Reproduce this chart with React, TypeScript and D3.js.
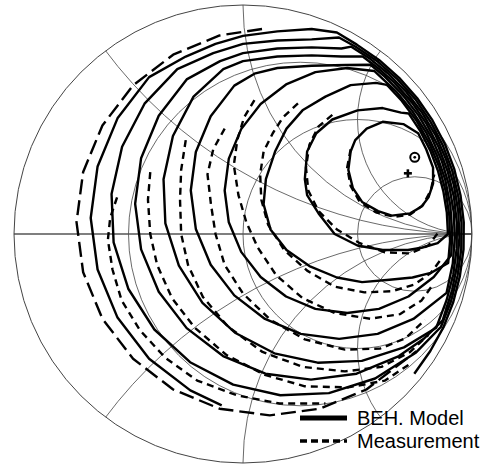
import React from "react";
import * as d3 from "d3";

type P = [number, number];

// Smith chart grid (normalised resistance circles / reactance arcs)
const resistanceCircles = [1 / 3, 1, 3];
const reactanceArcs = [0.5, 1, 2, -0.5, -1, -2];

// BEH. Model contours (reflection coefficient, Γr / Γi)
const model1: P[] = [[.46,.28],[.47,.36],[.49,.41],[.54,.46],[.61,.49],[.70,.48],[.765,.44],[.80,.37],[.83,.29],[.83,.22],[.81,.16],[.78,.12],[.73,.09],[.65,.08],[.59,.10],[.52,.14],[.48,.20]];
const model2: P[] = [[.27,.24],[.28,.36],[.32,.44],[.39,.50],[.50,.54],[.61,.55],[.69,.53],[.724,.526],[.775,.448],[.818,.364],[.851,.277],[.875,.186],[.89,.094],[.895,0],[.85,-.04],[.78,-.06],[.72,-.07],[.61,-.07],[.50,-.05],[.40,0],[.33,.09],[.28,.17]];
const model3: P[] = [[.09,.13],[.10,.24],[.14,.36],[.19,.46],[.26,.54],[.36,.60],[.47,.65],[.58,.66],[.629,.651],[.693,.582],[.759,.493],[.813,.397],[.856,.295],[.885,.188],[.901,.079],[.904,-.032],[.896,-.126],[.82,-.17],[.74,-.19],[.64,-.20],[.52,-.21],[.41,-.19],[.29,-.14],[.19,-.07],[.12,.02]];
const model4: P[] = [[.573,.712],[.455,.725],[.316,.707],[.188,.653],[.077,.568],[-.008,.458],[-.062,.329],[-.08,.19],[-.062,.051],[-.008,-.078],[.077,-.188],[.188,-.273],[.316,-.327],[.455,-.345],[.594,-.327],[.7225,-.273],[.833,-.188],[.909,-.093],[.914,0],[.905,.127],[.883,.237],[.847,.343],[.800,.443],[.739,.537],[.668,.623]];
const model5: P[] = [[.557,.739],[.45,.738],[.30,.735],[.15,.725],[.05,.70],[-.038,.648],[-.141,.514],[-.206,.358],[-.228,.19],[-.206,.022],[-.141,-.134],[-.038,-.268],[.096,-.371],[.252,-.436],[.42,-.458],[.588,-.436],[.744,-.371],[.889,-.257],[.916,-.129],[.925,-.016],[.920,.097],[.901,.208],[.869,.316],[.824,.420],[.767,.517],[.698,.607],[.619,.687]];
const model6: P[] = [[.523,.775],[.43,.775],[.30,.78],[.15,.775],[0,.755],[-.086,.72],[-.216,.600],[-.306,.428],[-.347,.239],[-.339,.046],[-.280,-.138],[-.177,-.301],[-.035,-.431],[.137,-.521],[.326,-.562],[.519,-.554],[.703,-.495],[.844,-.409],[.889,-.289],[.918,-.178],[.933,-.065],[.934,.049],[.921,.162],[.894,.273],[.854,.380],[.801,.482],[.737,.576],[.661,.661],[.590,.724]];
const model7: P[] = [[.473,.818],[.43,.81],[.30,.815],[.15,.81],[0,.79],[-.10,.755],[-.246,.675],[-.368,.516],[-.445,.331],[-.471,.132],[-.445,-.067],[-.368,-.252],[-.246,-.411],[-.087,-.533],[.098,-.610],[.297,-.636],[.496,-.610],[.681,-.533],[.791,-.456],[.872,-.377],[.913,-.245],[.936,-.132],[.945,-.016],[.940,.099],[.921,.213],[.888,.323],[.842,.429],[.783,.528],[.713,.620],[.632,.702],[.555,.765]];
const model8: P[] = [[.419,.858],[.30,.85],[.15,.845],[0,.83],[-.13,.79],[-.287,.72],[-.430,.569],[-.528,.381],[-.574,.175],[-.565,-.037],[-.501,-.239],[-.387,-.417],[-.231,-.560],[-.043,-.658],[.163,-.704],[.375,-.695],[.577,-.631],[.756,-.517],[.864,-.406],[.908,-.295],[.937,-.182],[.953,-.067],[.954,.050],[.940,.166],[.913,.279],[.872,.388],[.818,.492],[.753,.588],[.675,.675],[.588,.753],[.492,.818]];
const model9: P[] = [[-.093,-.748],[-.230,-.683],[-.410,-.545],[-.548,-.365],[-.635,-.155],[-.665,.07],[-.635,.295],[-.548,.505],[-.410,.685],[-.25,.775],[-.12,.83],[0,.865],[.15,.885],[.30,.895],[.41,.88],[.497,.827],[.594,.760],[.682,.682],[.760,.594],[.827,.497],[.882,.392],[.923,.282],[.950,.168],[.964,.051],[.963,-.067],[.947,-.184],[.918,-.298],[.875,-.408],[.818,-.511],[.748,-.610]];

// Measurement contours
const meas1: P[] = [[.47,.37],[.455,.29],[.47,.21],[.51,.14],[.58,.095],[.66,.075],[.73,.085],[.785,.125],[.82,.19],[.835,.26]];
const meas2: P[] = [[.39,.52],[.33,.47],[.29,.39],[.275,.29],[.285,.19],[.33,.10],[.41,.02],[.51,-.04],[.62,-.08],[.73,-.085],[.81,-.05],[.855,.01]];
const meas3: P[] = [[.24,.57],[.175,.51],[.13,.44],[.09,.36],[.075,.26],[.08,.15],[.11,.04],[.18,-.07],[.28,-.16],[.40,-.23],[.53,-.255],[.65,-.25],[.75,-.22],[.82,-.17],[.865,-.11]];
const meas4: P[] = [[.05,.585],[.005,.51],[-.025,.41],[-.04,.30],[-.02,.17],[.015,.05],[.065,-.06],[.145,-.18],[.26,-.28],[.40,-.345],[.555,-.37],[.685,-.35],[.78,-.29],[.83,-.22]];
const meas5: P[] = [[-.08,.46],[-.13,.37],[-.155,.26],[-.14,.13],[-.12,0],[-.08,-.135],[0,-.26],[.12,-.375],[.27,-.46],[.445,-.505],[.60,-.50],[.71,-.455],[.795,-.375]];
const meas6: P[] = [[-.25,.41],[-.27,.28],[-.275,.15],[-.27,0],[-.24,-.135],[-.175,-.275],[-.065,-.405],[.085,-.515],[.26,-.58],[.445,-.60],[.605,-.58],[.73,-.515],[.81,-.44]];
const meas7: P[] = [[-.405,.27],[-.415,.15],[-.405,0],[-.375,-.135],[-.31,-.28],[-.21,-.41],[-.07,-.53],[.095,-.615],[.27,-.665],[.46,-.67],[.62,-.64],[.74,-.56]];
const meas8: P[] = [[-.55,.16],[-.58,.07],[-.59,-.025],[-.57,-.155],[-.53,-.29],[-.45,-.42],[-.34,-.54],[-.20,-.64],[-.025,-.705],[.16,-.74],[.36,-.74]];
const measOuter: P[] = [[.083,.895],[-.102,.867],[-.305,.783],[-.480,.649],[-.614,.474],[-.698,.271],[-.727,.052],[-.698,-.167],[-.614,-.370],[-.480,-.545],[-.305,-.679],[-.102,-.763],[.117,-.792],[.336,-.763],[.539,-.679],[.714,-.545],[.757,-.512]];

const closedModels = [model1, model2, model3, model4, model5, model6, model7, model8];
const openModels = [model9];
const measurements = [meas1, meas2, meas3, meas4, meas5, meas6, meas7, meas8];

// markers
const optimumCircle: P = [.75, .335];
const optimumCross: P = [.72, .265];

const legendItems = ["BEH. Model", "Measurement"];

export default function App() {
  const W = 492, H = 465;
  const xS = d3.scaleLinear().domain([-1, 1]).range([14, 472]);
  const yS = d3.scaleLinear().domain([-1, 1]).range([463, 5]);
  const cx = xS(0), cy = yS(0);
  const rad = (v: number) => xS(v) - xS(0);

  const line = d3.line<P>().x(d => xS(d[0])).y(d => yS(d[1]));
  const closedLine = d3.line<P>().x(d => xS(d[0])).y(d => yS(d[1])).curve(d3.curveLinearClosed);

  const gridColor = "#444";

  return (
    <svg width={W} height={H} style={{ position: "absolute", left: 0, top: 0, background: "#fff" }}
      fontFamily="Liberation Sans, Arial, sans-serif">
      <defs>
        <clipPath id="unit">
          <circle cx={cx} cy={cy} r={rad(1)} />
        </clipPath>
      </defs>
      <rect width={W} height={H} fill="#fff" />
      <g clipPath="url(#unit)" fill="none" stroke={gridColor} strokeWidth={0.8}>
        {resistanceCircles.map((r, i) => (
          <circle key={"r" + i} cx={xS(r / (1 + r))} cy={cy} r={rad(1 / (1 + r))} />
        ))}
        {reactanceArcs.map((x, i) => (
          <circle key={"x" + i} cx={xS(1)} cy={yS(1 / x)} r={rad(1 / Math.abs(x))} />
        ))}
      </g>
      <line x1={xS(-1)} x2={xS(1)} y1={cy} y2={cy} stroke="#555" strokeWidth={1.4} />
      <circle cx={cx} cy={cy} r={rad(1)} fill="none" stroke={gridColor} strokeWidth={1} />

      <g fill="none" stroke="#000" strokeWidth={2.4} strokeLinejoin="round">
        {closedModels.map((c, i) => <path key={"m" + i} d={closedLine(c) || ""} />)}
        {openModels.map((c, i) => <path key={"o" + i} d={line(c) || ""} />)}
        {measurements.map((c, i) => <path key={"d" + i} d={line(c) || ""} strokeDasharray="7 5" />)}
        <path d={line(measOuter) || ""} strokeDasharray="15 6" />
      </g>

      <circle cx={xS(optimumCircle[0])} cy={yS(optimumCircle[1])} r={4.5} fill="none" stroke="#000" strokeWidth={2} />
      <circle cx={xS(optimumCircle[0])} cy={yS(optimumCircle[1])} r={1.4} fill="#000" />
      <g stroke="#000" strokeWidth={2.6}>
        <line x1={xS(optimumCross[0]) - 4} x2={xS(optimumCross[0]) + 4} y1={yS(optimumCross[1])} y2={yS(optimumCross[1])} />
        <line x1={xS(optimumCross[0])} x2={xS(optimumCross[0])} y1={yS(optimumCross[1]) - 4} y2={yS(optimumCross[1]) + 4} />
      </g>

      <g>
        <line x1={300} x2={347} y1={418} y2={418} stroke="#000" strokeWidth={5} />
        <text x={357} y={425} fontSize={20}>{legendItems[0]}</text>
        <line x1={300} x2={347} y1={441} y2={441} stroke="#000" strokeWidth={3.5} strokeDasharray="7 4" />
        <text x={357} y={448} fontSize={20}>{legendItems[1]}</text>
      </g>
    </svg>
  );
}
